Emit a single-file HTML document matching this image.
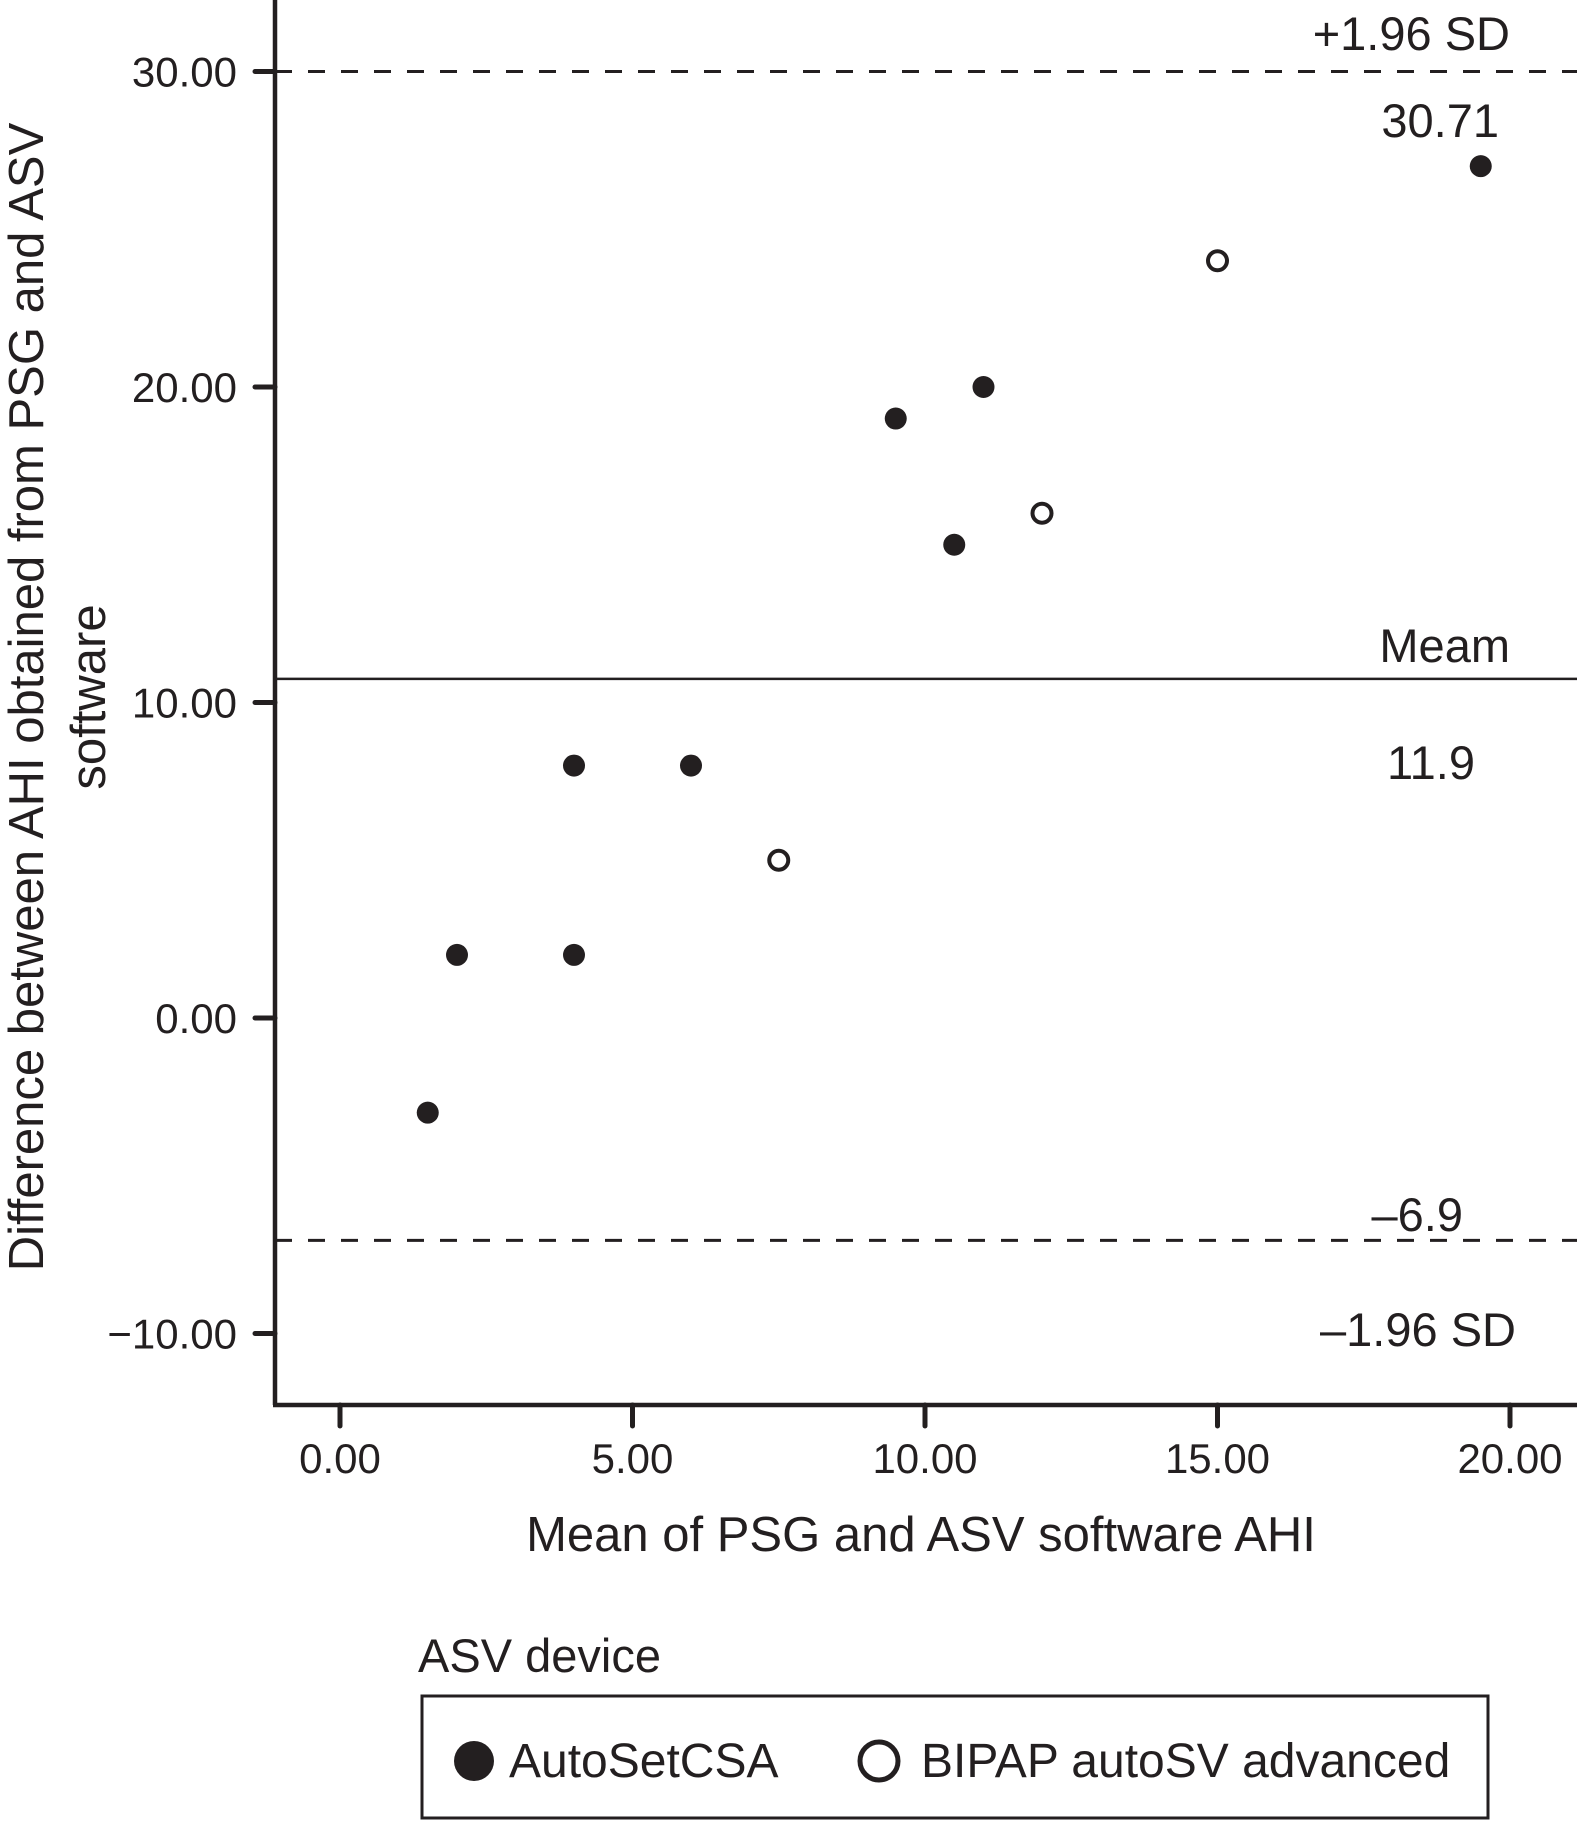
<!DOCTYPE html>
<html><head><meta charset="utf-8"><style>
html,body{margin:0;padding:0;background:#fff}
svg{display:block}
text{font-family:"Liberation Sans",sans-serif;fill:#231f20}
</style></head><body>
<svg id="chart" width="1577" height="1822" viewBox="0 0 1577 1822" xmlns="http://www.w3.org/2000/svg">
<g id="axes"></g>
<g id="lines"></g>
<g id="points"></g>
<g id="labels">
<text x="1510" y="50" font-size="47" text-anchor="end">+1.96 SD</text>
<text x="1499" y="137" font-size="47" text-anchor="end">30.71</text>
<text x="1510" y="662" font-size="47" text-anchor="end">Meam</text>
<text x="1475" y="779" font-size="47" text-anchor="end">11.9</text>
<text x="1463" y="1231" font-size="47" text-anchor="end">–6.9</text>
<text x="1516" y="1346" font-size="47" text-anchor="end">–1.96 SD</text>
<text x="921" y="1551" font-size="49" text-anchor="middle">Mean of PSG and ASV software AHI</text>
<g transform="translate(43,697) rotate(-90)">
<text x="0" y="0" font-size="49" text-anchor="middle">Difference between AHI obtained from PSG and ASV</text>
<text x="0" y="62" font-size="49" text-anchor="middle">software</text>
</g>
</g>
<g>
<text x="418" y="1672" font-size="47">ASV device</text>
<rect x="422" y="1696" width="1066" height="122" fill="none" stroke="#231f20" stroke-width="3"/>
<circle cx="474" cy="1761" r="20" fill="#231f20"/>
<text x="509" y="1777" font-size="48">AutoSetCSA</text>
<circle cx="879" cy="1761" r="19" fill="#fff" stroke="#231f20" stroke-width="5"/>
<text x="921" y="1777" font-size="48">BIPAP autoSV advanced</text>
</g>
</svg>
<script>
const xTicks = [0, 5, 10, 15, 20];
const xTickLabels = ["0.00", "5.00", "10.00", "15.00", "20.00"];
const yTicks = [30, 20, 10, 0, -10];
const yTickLabels = ["30.00", "20.00", "10.00", "0.00", "−10.00"];
const autoX = [19.5, 11, 9.5, 10.5, 4, 6, 2, 4, 1.5];
const autoY = [27, 20, 19, 15, 8, 8, 2, 2, -3];
const bipapX = [15, 12, 7.5];
const bipapY = [24, 16, 5];
const upperSD = 30;
const meanDiff = 10.75;
const lowerSD = -7.05;

function xs(v){ return 340 + v * 58.5; }
function ys(v){ return 1018 - v * 31.55; }
const NS = "http://www.w3.org/2000/svg";
function mk(tag, attrs, parent){
  const e = document.createElementNS(NS, tag);
  for (const k in attrs) e.setAttribute(k, attrs[k]);
  parent.appendChild(e); return e;
}
const axes = document.getElementById('axes');
let yAxis = mk('line', {x1:275, y1:0, x2:275, y2:1405, stroke:'#231f20','stroke-width':4.5}, axes);


let xAxis = mk('line', {x1:273, y1:1405, x2:1577, y2:1405, stroke:'#231f20','stroke-width':4.5}, axes);


xTicks.forEach((v,i)=>{
  const t = mk('line', {x1:xs(v), y1:1405, x2:xs(v), y2:1426, stroke:'#231f20','stroke-width':5,'stroke-linecap':'round'}, axes);
  
  
  const l = mk('text', {x:xs(v), y:1473, 'font-size':42, 'text-anchor':'middle'}, axes);
  l.textContent = xTickLabels[i];
  
  
});
yTicks.forEach((v,i)=>{
  const t = mk('line', {x1:255, y1:ys(v), x2:275, y2:ys(v), stroke:'#231f20','stroke-width':5,'stroke-linecap':'round'}, axes);
  
  
  const l = mk('text', {x:237, y:ys(v)+15, 'font-size':42, 'text-anchor':'end'}, axes);
  l.textContent = yTickLabels[i];
  
  
});
const lines = document.getElementById('lines');
let u = mk('line', {x1:275, y1:ys(upperSD), x2:1577, y2:ys(upperSD), stroke:'#231f20','stroke-width':3,'stroke-dasharray':'17 16'}, lines);


let m = mk('line', {x1:275, y1:ys(meanDiff), x2:1577, y2:ys(meanDiff), stroke:'#231f20','stroke-width':2.5}, lines);


let lo = mk('line', {x1:275, y1:ys(lowerSD), x2:1577, y2:ys(lowerSD), stroke:'#231f20','stroke-width':3,'stroke-dasharray':'17 16'}, lines);


const pts = document.getElementById('points');
autoX.forEach((v,i)=>{
  const c = mk('circle', {cx:xs(v), cy:ys(autoY[i]), r:11, fill:'#231f20'}, pts);
  
  
});
bipapX.forEach((v,i)=>{
  const c = mk('circle', {cx:xs(v), cy:ys(bipapY[i]), r:9.5, fill:'#fff', stroke:'#231f20','stroke-width':4}, pts);
  
  
});
</script>
</body></html>
